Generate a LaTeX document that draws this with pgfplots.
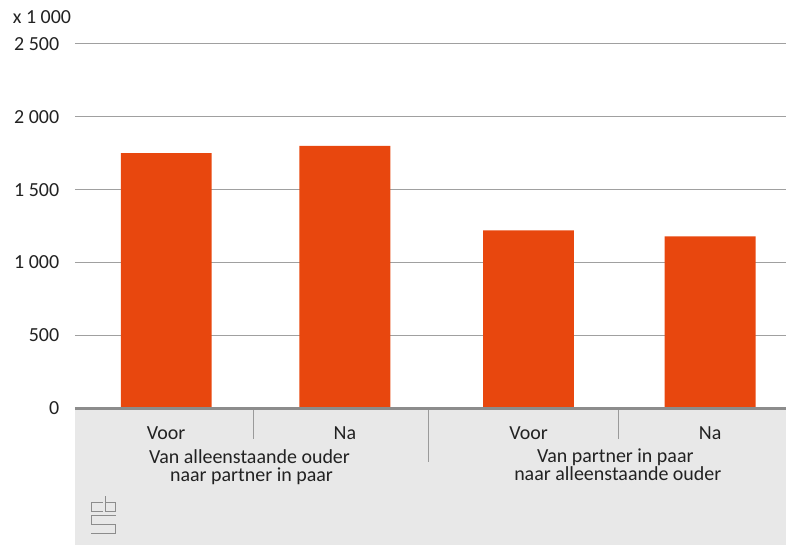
\documentclass[border=0pt]{standalone}
\usepackage{fontspec}
\setmainfont{Carlito}
\usepackage{pgfplots}
\pgfplotsset{compat=1.18}
\definecolor{barorange}{HTML}{E8470E}
\definecolor{gridgray}{HTML}{A0A0A0}
\definecolor{axgray}{HTML}{8C8C8C}
\definecolor{bggray}{HTML}{E8E8E8}
\definecolor{sepgray}{HTML}{9A9A9A}
\definecolor{txt}{HTML}{222222}
\begin{document}
\begin{tikzpicture}[font=\fontsize{20}{24}\selectfont]
% pixel coordinates: (px,py) -> axis lower-left at pixel (75,409)
\begin{scope}[shift={(-75pt,409pt)}, x=1pt, y=-1pt]
  \path (0,0) rectangle (787,546);
  \fill[bggray] (75,410) rectangle (787,546);
\end{scope}
\begin{axis}[
  at={(0,0)}, anchor=south west,
  scale only axis, width=712pt, height=365pt,
  xmin=75, xmax=787, ymin=0, ymax=2500,
  axis line style={draw=none},
  ytick={0,500,1000,1500,2000,2500},
  yticklabels={0,500,1 000,1 500,2 000,2 500},
  xtick={166.5,345.5,529.5,711.5},
  xticklabels={Voor,Na,Voor,Na},
  major tick length=0pt,
  ymajorgrids, grid style={color=gridgray, line width=1pt},
  yticklabel style={anchor=east, inner sep=0pt, xshift=-15.5pt, text=txt},
  xticklabel style={anchor=base, inner sep=0pt, yshift=-31pt, text=txt},
  clip=false,
  ybar, bar width=91,
]
\addplot[fill=barorange, draw=none, bar shift=0pt] coordinates {(166.5,1750) (345.5,1800) (529.5,1220) (711.5,1180)};
\end{axis}
\begin{scope}[shift={(-75pt,409pt)}, x=1pt, y=-1pt]
  \draw[axgray, line width=3pt] (75,409.5) -- (787,409.5);
  \draw[sepgray, line width=1pt] (253.5,411) -- (253.5,440);
  \draw[sepgray, line width=1pt] (619.5,411) -- (619.5,440);
  \draw[sepgray, line width=1pt] (429.5,411) -- (429.5,463);
  \node[anchor=base west, inner sep=0pt, text=txt] at (12.7,23.3) {x 1 000};
  \node[anchor=base, inner sep=0pt, text=txt] at (250,464) {Van alleenstaande ouder};
  \node[anchor=base, inner sep=0pt, text=txt] at (252,482.5) {naar partner in paar};
  \node[anchor=base, inner sep=0pt, text=txt] at (616.5,463) {Van partner in paar};
  \node[anchor=base, inner sep=0pt, text=txt] at (619,481.5) {naar alleenstaande ouder};
  % cbs logo
  \begin{scope}[draw=axgray, line width=1pt, double=bggray, double distance=1.6pt, line cap=rect]
    \draw (103,503.5) -- (92,503.5) -- (92,512.5) -- (103,512.5);
    \draw (105.5,497.5) -- (105.5,512.5) -- (116,512.5) -- (116,503.5) -- (105.5,503.5);
    \draw (116,516.5) -- (92,516.5) -- (92,525.5) -- (116,525.5) -- (116,534.5) -- (92,534.5);
  \end{scope}
\end{scope}
\end{tikzpicture}
\end{document}
